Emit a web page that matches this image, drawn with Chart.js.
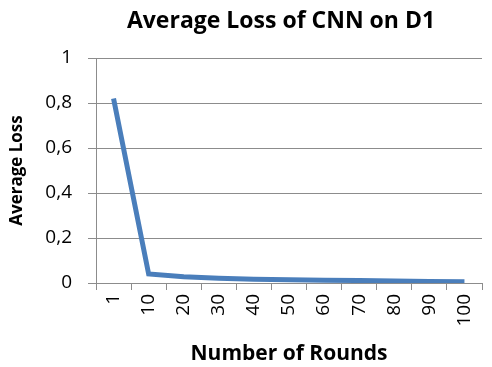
<!DOCTYPE html>
<html>
<head>
<meta charset="utf-8">
<script src="https://cdn.jsdelivr.net/npm/chart.js@4"></script>
<style>
  html, body { margin: 0; padding: 0; background: #ffffff; }
  #wrap { width: 492px; height: 367px; }
</style>
</head>
<body>
<div id="wrap"><canvas id="c" width="492" height="367"></canvas></div>
<script>
// Training rounds and the average loss recorded at each
const rounds = ['1', '10', '20', '30', '40', '50', '60', '70', '80', '90', '100'];
const averageLoss = [0.82, 0.04, 0.028, 0.021, 0.017, 0.014, 0.012, 0.011, 0.009, 0.007, 0.006];
const yTicks = [0, 0.2, 0.4, 0.6, 0.8, 1];
const chartTitle = 'Average Loss of CNN on D1';

const FONT = '"Open Sans", "Liberation Sans", sans-serif';
const GRID = '#8c8c8c';

// Heading drawn a little left of the plot centre, in the reserved top band
const headingPlugin = {
  id: 'heading',
  afterDraw(chart) {
    const { ctx, chartArea } = chart;
    ctx.save();
    ctx.fillStyle = '#000000';
    ctx.font = 'bold 23px ' + FONT;
    ctx.textAlign = 'center';
    ctx.textBaseline = 'middle';
    ctx.fillText(chartTitle, (chartArea.left + chartArea.right) / 2 - 8, 21);
    ctx.restore();
  }
};

new Chart(document.getElementById('c'), {
  type: 'line',
  data: {
    labels: rounds,
    datasets: [{
      data: averageLoss,
      borderColor: '#4a7ebb',
      borderWidth: 5,
      pointRadius: 0,
      tension: 0,
      fill: false
    }]
  },
  options: {
    responsive: false,
    animation: false,
    layout: { padding: { left: 0, right: 10, top: 58, bottom: 0 } },
    plugins: {
      legend: { display: false },
      tooltip: { enabled: false },
      title: { display: false }
    },
    scales: {
      x: {
        type: 'category',
        offset: true,
        grid: {
          display: true,
          offset: true,
          drawOnChartArea: false,
          drawTicks: true,
          tickLength: 7,
          color: GRID
        },
        border: { display: true, color: GRID, width: 1 },
        ticks: {
          color: '#000000',
          font: { family: FONT, size: 19 },
          minRotation: 90,
          maxRotation: 90,
          autoSkip: false,
          padding: 4
        },
        title: {
          display: true,
          text: 'Number of Rounds',
          color: '#000000',
          font: { family: FONT, size: 21, weight: 'bold' },
          padding: { top: 0, bottom: 0 }
        },
        afterFit: (s) => { s.height = 84; }
      },
      y: {
        min: 0,
        max: 1,
        afterBuildTicks: (s) => { s.ticks = yTicks.map(v => ({ value: v })); },
        grid: {
          color: GRID,
          drawTicks: true,
          tickLength: 8
        },
        border: { display: true, color: GRID, width: 1 },
        ticks: {
          color: '#000000',
          font: { family: FONT, size: 19 },
          padding: 16,
          callback: (v) => String(Math.round(v * 10) / 10).replace('.', ',')
        },
        title: {
          display: true,
          text: 'Average Loss',
          color: '#000000',
          font: { family: FONT, size: 17, weight: 'bold' },
          padding: { top: 7, bottom: 0 }
        },
        afterFit: (s) => { s.width = 96; }
      }
    }
  },
  plugins: [headingPlugin]
});
</script>
</body>
</html>
